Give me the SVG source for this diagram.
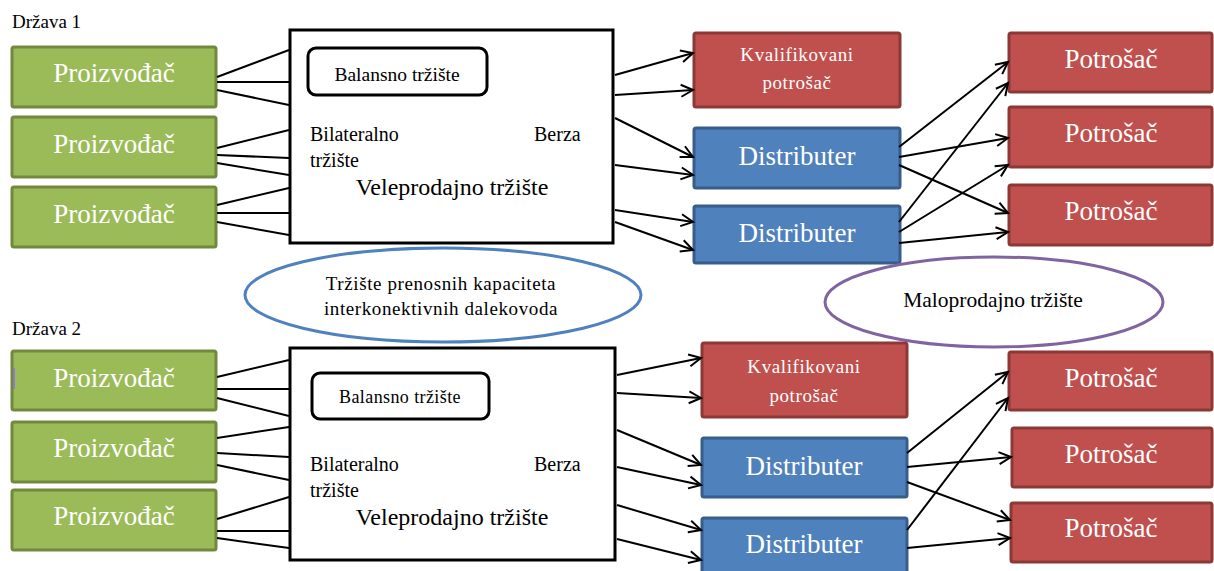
<svg xmlns="http://www.w3.org/2000/svg" width="1214" height="571" viewBox="0 0 1214 571">
  <style>
    text { font-family: "Liberation Serif", "Times New Roman", serif; }
    .gen rect { fill: #9BBB59; stroke: #71893F; stroke-width: 3; }
    .red rect { fill: #C0504D; stroke: #8C3836; stroke-width: 3; }
    .blue rect { fill: #4F81BD; stroke: #385D8A; stroke-width: 3; }
    .big { fill: #ffffff; stroke: #000000; stroke-width: 3; }
    .bal { fill: #ffffff; stroke: #000000; stroke-width: 3; }
    .lbl { fill: #ffffff; font-size: 27px; text-anchor: middle; }
    .small { fill: #ffffff; font-size: 19px; letter-spacing: 0.6px; text-anchor: middle; }
    .blk { fill: #000000; font-size: 20px; }
    .mid { text-anchor: middle; }
    .conn line { stroke: #000000; stroke-width: 2; }
    .arr line { marker-end: url(#vhead); }
  </style>
  <defs>
    <marker id="vhead" markerUnits="userSpaceOnUse" markerWidth="14" markerHeight="14" refX="12" refY="6" orient="auto" overflow="visible">
      <path d="M0,0 L12,6 L0,12" fill="none" stroke="#000000" stroke-width="2"/>
    </marker>
  </defs>
  <rect width="1214" height="571" fill="#ffffff"/>

  <!-- Country 1 -->
  <text x="12" y="28" class="blk" style="font-size:19px">Država 1</text>

  <!-- wholesale market, country 1 -->
  <g id="wholesale1">
    <rect class="big" x="290" y="30" width="323" height="213"/>
    <rect class="bal" x="308" y="48" width="179" height="47" rx="8"/>
    <text x="397" y="81" class="blk mid" style="font-size:19.5px">Balansno tržište</text>
    <text x="310" y="141" class="blk">Bilateralno</text>
    <text x="534" y="141" class="blk">Berza</text>
    <text x="310" y="167" class="blk">tržište</text>
    <text x="452" y="195" class="blk mid" style="font-size:24px">Veleprodajno tržište</text>
  </g>

  <g id="gen1a" class="gen"><rect x="12" y="47" width="204" height="60" rx="2"/><text x="114" y="82" class="lbl">Proizvođač</text></g>
  <g id="gen1b" class="gen"><rect x="12" y="117" width="204" height="60" rx="2"/><text x="114" y="153" class="lbl">Proizvođač</text></g>
  <g id="gen1c" class="gen"><rect x="12" y="187" width="204" height="60" rx="2"/><text x="114" y="223" class="lbl">Proizvođač</text></g>

  <g id="qual1" class="red"><rect x="694" y="33" width="206" height="74" rx="2"/>
    <text x="797" y="61" class="small">Kvalifikovani</text>
    <text x="797" y="89" class="small">potrošač</text></g>
  <g id="dist1a" class="blue"><rect x="694" y="128" width="206" height="60" rx="2"/><text x="797" y="165" class="lbl">Distributer</text></g>
  <g id="dist1b" class="blue"><rect x="694" y="206" width="206" height="57" rx="2"/><text x="797" y="242" class="lbl">Distributer</text></g>

  <g id="cons1a" class="red"><rect x="1009" y="33" width="203" height="59" rx="2"/><text x="1111" y="68" class="lbl">Potrošač</text></g>
  <g id="cons1b" class="red"><rect x="1009" y="107" width="203" height="60" rx="2"/><text x="1111" y="142" class="lbl">Potrošač</text></g>
  <g id="cons1c" class="red"><rect x="1009" y="185" width="203" height="60" rx="2"/><text x="1111" y="220" class="lbl">Potrošač</text></g>

  <!-- cross-border capacity market -->
  <g id="capacity">
    <ellipse cx="443" cy="295" rx="198" ry="47" fill="#ffffff" stroke="#4F81BD" stroke-width="3"/>
    <text x="441" y="290" class="blk mid" style="font-size:19px;letter-spacing:0.6px">Tržište prenosnih kapaciteta</text>
    <text x="441" y="315" class="blk mid" style="font-size:19px;letter-spacing:0.6px">interkonektivnih dalekovoda</text>
  </g>

  <!-- retail market -->
  <g id="retail">
    <ellipse cx="994" cy="302" rx="169" ry="45" fill="#ffffff" stroke="#8064A2" stroke-width="3"/>
    <text x="993" y="307" class="blk mid" style="font-size:21.5px">Maloprodajno tržište</text>
  </g>

  <!-- Country 2 -->
  <text x="12" y="335" class="blk" style="font-size:19px">Država 2</text>

  <g id="wholesale2">
    <rect class="big" x="290" y="348" width="325" height="212"/>
    <rect class="bal" x="312" y="373" width="177" height="46" rx="8"/>
    <text x="400" y="403" class="blk mid" style="font-size:18px;letter-spacing:0.4px">Balansno tržište</text>
    <text x="310" y="471" class="blk">Bilateralno</text>
    <text x="534" y="471" class="blk">Berza</text>
    <text x="310" y="497" class="blk">tržište</text>
    <text x="452" y="525" class="blk mid" style="font-size:24px">Veleprodajno tržište</text>
  </g>

  <g id="gen2a" class="gen"><rect x="12" y="351" width="204" height="59" rx="2"/><text x="114" y="387" class="lbl">Proizvođač</text></g>
  <rect x="13" y="368" width="2" height="21" fill="#8E7CC3"/>
  <g id="gen2b" class="gen"><rect x="12" y="422" width="204" height="60" rx="2"/><text x="114" y="457" class="lbl">Proizvođač</text></g>
  <g id="gen2c" class="gen"><rect x="12" y="490" width="204" height="60" rx="2"/><text x="114" y="525" class="lbl">Proizvođač</text></g>

  <g id="qual2" class="red"><rect x="702" y="343" width="205" height="74" rx="2"/>
    <text x="804" y="373" class="small">Kvalifikovani</text>
    <text x="804" y="402" class="small">potrošač</text></g>
  <g id="dist2a" class="blue"><rect x="702" y="438" width="205" height="59" rx="2"/><text x="804" y="475" class="lbl">Distributer</text></g>
  <g id="dist2b" class="blue"><rect x="702" y="518" width="205" height="64" rx="2"/><text x="804" y="553" class="lbl">Distributer</text></g>

  <g id="cons2a" class="red"><rect x="1009" y="352" width="203" height="58" rx="2"/><text x="1111" y="387" class="lbl">Potrošač</text></g>
  <g id="cons2b" class="red"><rect x="1012" y="428" width="200" height="59" rx="2"/><text x="1111" y="463" class="lbl">Potrošač</text></g>
  <g id="cons2c" class="red"><rect x="1011" y="503" width="201" height="59" rx="2"/><text x="1111" y="537" class="lbl">Potrošač</text></g>

  <!-- connectors -->
  <g id="connectors" class="conn">
    <!-- producers to wholesale, country 1 -->
    <line x1="217" y1="77" x2="289" y2="50"/>
    <line x1="217" y1="82" x2="289" y2="82"/>
    <line x1="217" y1="90" x2="289" y2="105"/>
    <line x1="217" y1="148" x2="289" y2="130"/>
    <line x1="217" y1="155" x2="289" y2="158"/>
    <line x1="217" y1="163" x2="289" y2="175"/>
    <line x1="217" y1="205" x2="289" y2="188"/>
    <line x1="217" y1="213" x2="289" y2="213"/>
    <line x1="217" y1="222" x2="289" y2="235"/>
    <!-- producers to wholesale, country 2 -->
    <line x1="217" y1="377" x2="289" y2="360"/>
    <line x1="217" y1="389" x2="289" y2="389"/>
    <line x1="217" y1="398" x2="289" y2="416"/>
    <line x1="217" y1="438" x2="289" y2="427"/>
    <line x1="217" y1="453" x2="289" y2="457"/>
    <line x1="217" y1="465" x2="289" y2="480"/>
    <line x1="217" y1="519" x2="289" y2="497"/>
    <line x1="217" y1="531" x2="289" y2="531"/>
    <line x1="217" y1="538" x2="289" y2="548"/>
    <g class="arr">
      <!-- wholesale to buyers, country 1 -->
      <line x1="615" y1="75" x2="693" y2="53"/>
      <line x1="615" y1="95" x2="693" y2="90"/>
      <line x1="615" y1="118" x2="693" y2="157"/>
      <line x1="615" y1="165" x2="693" y2="175"/>
      <line x1="615" y1="210" x2="693" y2="222"/>
      <line x1="615" y1="222" x2="693" y2="250"/>
      <!-- distributors to consumers, country 1 -->
      <line x1="899" y1="147" x2="1008" y2="62"/>
      <line x1="899" y1="157" x2="1008" y2="138"/>
      <line x1="899" y1="165" x2="1008" y2="213"/>
      <line x1="899" y1="222" x2="1008" y2="83"/>
      <line x1="899" y1="232" x2="1008" y2="165"/>
      <line x1="899" y1="243" x2="1008" y2="232"/>
      <!-- wholesale to buyers, country 2 -->
      <line x1="617" y1="375" x2="701" y2="358"/>
      <line x1="617" y1="393" x2="701" y2="398"/>
      <line x1="617" y1="430" x2="701" y2="465"/>
      <line x1="617" y1="467" x2="701" y2="485"/>
      <line x1="617" y1="505" x2="701" y2="530"/>
      <line x1="617" y1="539" x2="701" y2="560"/>
      <!-- distributors to consumers, country 2 -->
      <line x1="907" y1="453" x2="1008" y2="372"/>
      <line x1="907" y1="467" x2="1011" y2="457"/>
      <line x1="907" y1="482" x2="1010" y2="520"/>
      <line x1="907" y1="530" x2="1008" y2="398"/>
      <line x1="907" y1="548" x2="1010" y2="538"/>
    </g>
  </g>
</svg>
